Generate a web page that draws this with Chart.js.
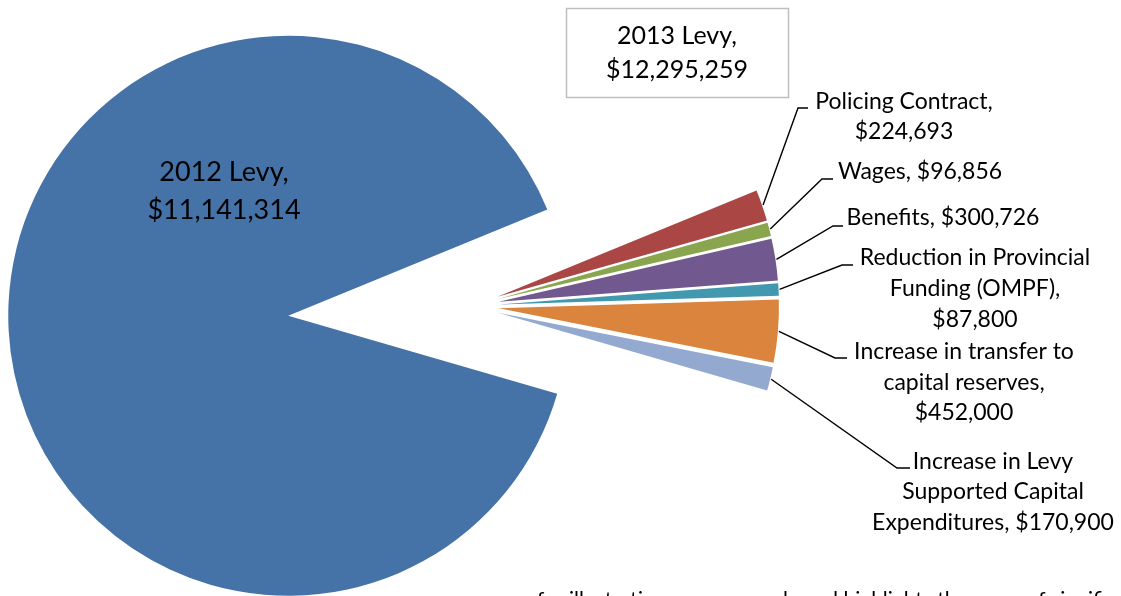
<!DOCTYPE html>
<html>
<head>
<meta charset="utf-8">
<title>Levy change 2012 to 2013</title>
<script src="https://cdn.jsdelivr.net/npm/chart.js@4.4.1/dist/chart.umd.min.js"></script>
<style>
  html, body { margin: 0; padding: 0; background: #ffffff; }
  #wrap { position: relative; width: 1121px; height: 596px; overflow: hidden; }
</style>
</head>
<body>
<div id="wrap">
  <canvas id="levyChart" width="1121" height="596"></canvas>
</div>
<script>
// --- Data ---
const categories = [
  'Policing Contract',
  'Wages',
  'Benefits',
  'Reduction in Provincial Funding (OMPF)',
  'Increase in transfer to capital reserves',
  'Increase in Levy Supported Capital Expenditures',
  '2012 Levy'
];
const amounts = [224693, 96856, 300726, 87800, 452000, 170900, 11141314];
const levy2013 = 12295259;
const sliceColors = ['#AA4643', '#89A54E', '#71588F', '#4198AF', '#DB843D', '#93A9CF', '#4572A7'];

const fmt = (v) => '$' + v.toLocaleString('en-US');

// label text, broken into lines the way the chart shows them
const labelLines = [
  ['Policing Contract,', fmt(amounts[0])],
  ['Wages, ' + fmt(amounts[1])],
  ['Benefits, ' + fmt(amounts[2])],
  ['Reduction in Provincial', 'Funding (OMPF),', fmt(amounts[3])],
  ['Increase in transfer to', 'capital reserves,', fmt(amounts[4])],
  ['Increase in Levy', 'Supported Capital', 'Expenditures, ' + fmt(amounts[5])]
];
const BASE = 6; // index of the 2012 levy slice

// --- Styling / placement ---
// how far each slice is pulled out from the centre, px (like Excel's point explosion)
const explodeBy = [28, 28, 28, 28, 28, 28, 183];

// leader elbow, end of leader, text centre for each small slice
const leaderLayout = [
  { elbow: [798, 108], end: [808, 108], textX: 904, textY: [102, 132] },
  { elbow: [822, 179], end: [833, 179], textX: 920, textY: [172] },
  { elbow: [833, 226], end: [843, 226], textX: 943, textY: [218] },
  { elbow: [842, 265], end: [853, 265], textX: 975, textY: [258, 289, 320] },
  { elbow: [835, 358], end: [847, 358], textX: 964, textY: [352, 383, 413] },
  { elbow: [897, 468], end: [910, 468], textX: 993, textY: [462, 492, 523] }
];

const FONT = '"Lato", "Open Sans", sans-serif';

// --- Plugins ---
// push each arc out along its own mid angle
const explodePlugin = {
  id: 'explode',
  afterDatasetUpdate(chart, args) {
    args.meta.data.forEach((arc, i) => {
      const mid = (arc.startAngle + arc.endAngle) / 2;
      const d = explodeBy[i] || 0;
      arc.x += Math.cos(mid) * d;
      arc.y += Math.sin(mid) * d;
    });
  }
};

const leaderPlugin = {
  id: 'leaders',
  afterDatasetsDraw(chart) {
    const ctx = chart.ctx;
    const arcs = chart.getDatasetMeta(0).data;
    ctx.save();
    ctx.strokeStyle = '#000000';
    ctx.lineWidth = 1.4;
    ctx.fillStyle = '#000000';
    ctx.font = '23px ' + FONT;
    ctx.textAlign = 'center';
    ctx.textBaseline = 'middle';
    leaderLayout.forEach((lay, i) => {
      const p = arcs[i].getProps(['x', 'y', 'startAngle', 'endAngle', 'outerRadius'], true);
      const mid = (p.startAngle + p.endAngle) / 2;
      const sx = p.x + Math.cos(mid) * (p.outerRadius + 1);
      const sy = p.y + Math.sin(mid) * (p.outerRadius + 1);
      ctx.beginPath();
      ctx.moveTo(sx, sy);
      ctx.lineTo(lay.elbow[0], lay.elbow[1]);
      ctx.lineTo(lay.end[0], lay.end[1]);
      ctx.stroke();
      labelLines[i].forEach((t, k) => ctx.fillText(t, lay.textX, lay.textY[k]));
    });
    ctx.restore();
  }
};

const notesPlugin = {
  id: 'notes',
  afterDatasetsDraw(chart) {
    const ctx = chart.ctx;
    ctx.save();
    ctx.fillStyle = '#000000';
    ctx.textAlign = 'center';
    ctx.textBaseline = 'middle';
    // label inside the 2012 slice
    ctx.font = '27px ' + FONT;
    ctx.fillText(categories[BASE] + ',', 224, 172);
    ctx.fillText(fmt(amounts[BASE]), 224, 210);

    // 2013 total box
    ctx.strokeStyle = '#BFBFBF';
    ctx.lineWidth = 1.5;
    ctx.strokeRect(566.5, 8.5, 222, 89);
    ctx.font = '25px ' + FONT;
    ctx.fillText('2013 Levy,', 677, 36);
    ctx.fillText(fmt(levy2013), 677, 70);

    // note text running off the bottom edge
    ctx.textAlign = 'left';
    ctx.textBaseline = 'alphabetic';
    ctx.font = '21px ' + FONT;
    ctx.fillText('for illustrative purposes only and highlights the areas of significant change', 537, 607);
    ctx.restore();
  }
};

// --- Chart Rendering ---
// pie centre sits at (471, 306); the 2012 slice is pulled far to the left
new Chart(document.getElementById('levyChart'), {
  type: 'pie',
  data: {
    labels: categories,
    datasets: [{
      data: amounts,
      backgroundColor: sliceColors,
      borderWidth: 0,
      clip: false
    }]
  },
  options: {
    responsive: false,
    animation: false,
    events: [],
    rotation: 67.7,
    radius: 280,
    layout: { padding: { left: 0, right: 179, top: 16, bottom: 0 } },
    plugins: { legend: { display: false }, tooltip: { enabled: false } }
  },
  plugins: [explodePlugin, leaderPlugin, notesPlugin]
});
</script>
</body>
</html>
